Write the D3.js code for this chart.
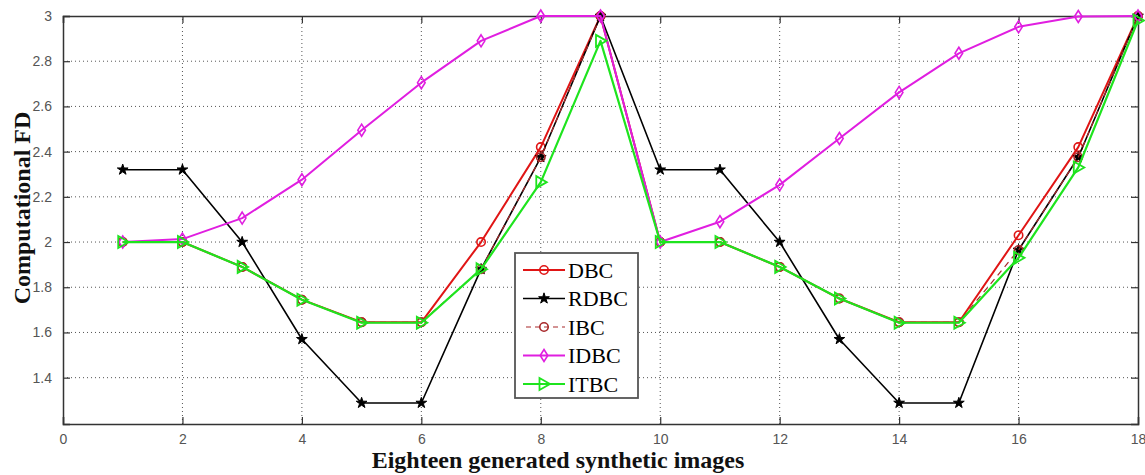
<!DOCTYPE html>
<html>
<head>
<meta charset="utf-8">
<script src="https://cdn.jsdelivr.net/npm/d3@7"></script>
<style>
html,body{margin:0;padding:0;background:#fff;}
svg{display:block;}
</style>
</head>
<body>
<svg id="chart" width="1145" height="475"></svg>
<script>
const images = [1,2,3,4,5,6,7,8,9,10,11,12,13,14,15,16,17,18];
const dbc  = [2.0,2.0,1.89,1.745,1.645,1.645,2.0,2.42,3.0,2.0,2.0,1.89,1.75,1.645,1.645,2.03,2.42,3.0];
const rdbc = [2.32,2.32,2.0,1.57,1.288,1.288,1.88,2.375,3.0,2.32,2.32,2.0,1.57,1.288,1.288,1.965,2.375,3.0];
const ibc  = [2.0,2.0,1.89,1.745,1.645,1.645,1.88,2.375,3.0,2.0,2.0,1.89,1.75,1.645,1.645,1.965,2.375,3.0];
const idbc = [2.0,2.013,2.106,2.276,2.495,2.705,2.89,3.0,3.0,2.0,2.09,2.253,2.458,2.662,2.835,2.952,2.998,3.0];
const itbc = [2.0,2.0,1.89,1.745,1.643,1.643,1.88,2.265,2.89,2.0,2.0,1.89,1.75,1.643,1.643,1.93,2.33,2.98];
const xTicks = [0,2,4,6,8,10,12,14,16,18];
const yTicks = [1.4,1.6,1.8,2,2.2,2.4,2.6,2.8,3];
const seriesNames = ["DBC","RDBC","IBC","IDBC","ITBC"];

const svg = d3.select("#chart");
const W = 1145, H = 475;
const m = {left:63, right:7, top:16, bottom:51};
const x = d3.scaleLinear().domain([0,18]).range([m.left, W - m.right]);
const y = d3.scaleLinear().domain([1.195,3]).range([H - m.bottom, m.top]);

// grid
const g = svg.append("g");
g.selectAll(".gx").data(xTicks.filter(t => t>0 && t<18)).enter().append("line")
  .attr("x1", d=>x(d)).attr("x2", d=>x(d)).attr("y1", y.range()[0]).attr("y2", y.range()[1])
  .attr("stroke","#555").attr("stroke-width",1).attr("stroke-dasharray","1,3");
g.selectAll(".gy").data(yTicks.filter(t => t<3)).enter().append("line")
  .attr("y1", d=>y(d)).attr("y2", d=>y(d)).attr("x1", x.range()[0]).attr("x2", x.range()[1])
  .attr("stroke","#555").attr("stroke-width",1).attr("stroke-dasharray","1,3");

// axes with inner ticks
const xAxisB = d3.axisBottom(x).tickValues(xTicks).tickSize(-7).tickPadding(10).tickFormat(d3.format("d"));
const xAxisT = d3.axisTop(x).tickValues(xTicks).tickSize(-7).tickFormat("");
const yAxisL = d3.axisLeft(y).tickValues(yTicks).tickSize(-7).tickPadding(11).tickFormat(d => String(d));
const yAxisR = d3.axisRight(y).tickValues(yTicks).tickSize(-7).tickFormat("");

function styleAxis(sel){
  sel.select(".domain").attr("stroke","#333").attr("stroke-width",1.5);
  sel.selectAll(".tick line").attr("stroke","#333").attr("stroke-width",1.2);
  sel.selectAll(".tick text").attr("fill","#555").style("font-family","'Liberation Sans', Arial, sans-serif").style("font-size","14px");
}
svg.append("g").attr("transform",`translate(0,${H-m.bottom})`).call(xAxisB).call(styleAxis);
svg.append("g").attr("transform",`translate(0,${m.top})`).call(xAxisT).call(styleAxis);
svg.append("g").attr("transform",`translate(${m.left},0)`).call(yAxisL).call(styleAxis);
svg.append("g").attr("transform",`translate(${W-m.right},0)`).call(yAxisR).call(styleAxis);

// axis labels
svg.append("text").attr("x", 558).attr("y", 468).attr("text-anchor","middle")
  .style("font-family","'Liberation Serif','Times New Roman',serif").style("font-weight","bold").style("font-size","24px")
  .attr("fill","#111").text("Eighteen generated synthetic images");
svg.append("text").attr("transform",`translate(30,208) rotate(-90)`).attr("text-anchor","middle")
  .style("font-family","'Liberation Serif','Times New Roman',serif").style("font-weight","bold").style("font-size","24px")
  .attr("fill","#111").text("Computational FD");

// markers
const diamondPath = "M0,-6L3.8,0L0,6L-3.8,0Z";
const triPath = "M-4.5,-6L6,0L-4.5,6Z";
const starPath = d3.symbol().type(d3.symbolStar).size(36)();
const series = [
  {name:"DBC", vals:dbc, color:"#e01515", width:2, dash:null, marker:"circle", fill:"none"},
  {name:"RDBC", vals:rdbc, color:"#000000", width:1.6, dash:null, marker:"star", fill:"#000"},
  {name:"IBC", vals:ibc, color:"#a8282a", width:1.2, dash:"6,5", marker:"circle", fill:"none"},
  {name:"IDBC", vals:idbc, color:"#e01ee0", width:2, dash:null, marker:"diamond", fill:"none"},
  {name:"ITBC", vals:itbc, color:"#1ee41e", width:2.2, dash:null, marker:"tri", fill:"none"}
];
function drawMarker(sel, s){
  if (s.marker === "circle") {
    sel.append("circle").attr("r",4.2).attr("fill",s.fill).attr("stroke",s.color).attr("stroke-width",1.6);
  } else if (s.marker === "star") {
    sel.append("path").attr("d",starPath).attr("fill",s.fill).attr("stroke",s.color).attr("stroke-width",1);
  } else if (s.marker === "diamond") {
    sel.append("path").attr("d",diamondPath).attr("fill","none").attr("stroke",s.color).attr("stroke-width",1.6);
  } else {
    sel.append("path").attr("d",triPath).attr("fill","none").attr("stroke",s.color).attr("stroke-width",1.8);
  }
}
const line = d3.line().x((d,i)=>x(images[i])).y(d=>y(d));
series.forEach(s => {
  const sg = svg.append("g");
  sg.append("path").datum(s.vals).attr("d",line).attr("fill","none").attr("stroke",s.color)
    .attr("stroke-width",s.width).attr("stroke-dasharray",s.dash).attr("stroke-linejoin","round");
  s.vals.forEach((v,i) => {
    const mg = sg.append("g").attr("transform",`translate(${x(images[i])},${y(v)})`);
    drawMarker(mg, s);
  });
});

// legend
const lg = svg.append("g").attr("transform","translate(515,253)");
lg.append("rect").attr("width",123).attr("height",145).attr("fill","#fff").attr("stroke","#555").attr("stroke-width",1.8);
series.forEach((s,i) => {
  const yy = 17 + i*28.5;
  const row = lg.append("g").attr("transform",`translate(0,${yy})`);
  row.append("line").attr("x1",8).attr("x2",50).attr("stroke",s.color).attr("stroke-width",s.width)
    .attr("stroke-dasharray", s.dash ? "5,4" : null).attr("x1", s.dash ? 11 : 8);
  const mg = row.append("g").attr("transform","translate(29,0)");
  drawMarker(mg, s);
  row.append("text").attr("x",53).attr("y",7.5).style("font-family","'Liberation Serif','Times New Roman',serif")
    .style("font-size","22px").attr("fill","#000").text(s.name);
});
</script>
</body>
</html>
